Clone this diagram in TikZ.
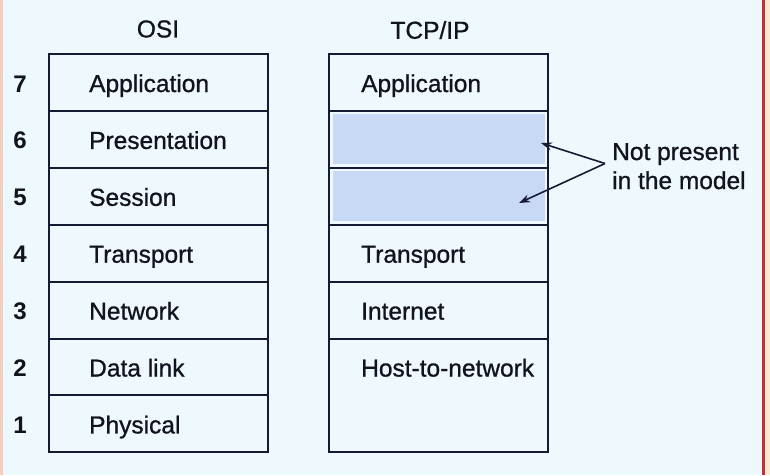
\documentclass[tikz,border=0pt]{standalone}
\usepackage{fontspec}
\setmainfont{Liberation Sans}
\newfontfamily\medfont{Liberation Sans}[FakeBold=0.9]
\usetikzlibrary{arrows.meta}
\definecolor{bgc}{HTML}{EDF9FC}
\definecolor{linec}{HTML}{161A33}
\definecolor{shadec}{HTML}{C7D9F4}
\definecolor{txtc}{HTML}{12131F}
\definecolor{leftedge}{HTML}{F2CFC0}
\definecolor{rightred}{HTML}{C23238}
\definecolor{rightor}{HTML}{FDEAD3}
\tikzset{
  osicell/.style={draw=linec, line width=2pt, minimum width=219pt, minimum height=57pt, inner sep=0pt, fill=bgc},
  tcpcell/.style={draw=linec, line width=2pt, minimum width=219pt, minimum height=57pt, inner sep=0pt, fill=bgc},
  shadein/.style={fill=shadec, minimum width=212pt, minimum height=50pt, inner sep=0pt},
  lbl/.style={anchor=base west, inner sep=0pt, text=txtc, font=\medfont\fontsize{24.5}{28}\selectfont},
  ttl/.style={inner sep=0pt, text=txtc, font=\medfont\fontsize{24.5}{28}\selectfont},
  num/.style={anchor=base, inner sep=0pt, text=txtc, font=\bfseries\fontsize{24}{28}\selectfont},
  ptr/.style={draw=linec, line width=1.6pt, -{Stealth[length=11pt,width=8pt]}}
}
\begin{document}
\begin{tikzpicture}[x=1pt,y=-1pt]
\fill[bgc] (0,0) rectangle (770,475);
\useasboundingbox (0,0) rectangle (770,475);
\fill[leftedge] (0,0) rectangle (2.5,475);
\fill[rightor] (764,0) rectangle (770,475);
\fill[rightred] (762,0) rectangle (764.5,475);

% titles
\node[ttl] (tosi) at (158,29) {OSI};
\node[ttl] (ttcp) at (430,30) {TCP/IP};

% OSI column
\foreach \n/\t [count=\i from 0] in {7/Application,6/Presentation,5/Session,4/Transport,3/Network,2/Data link,1/Physical}{
  \node[osicell] (o\n) at (158.5,{82.5+56.9*\i}) {};
  \node[lbl] (ol\n) at ([xshift=41pt,yshift=-9.5pt]o\n.west) {\t};
  \node[num] (n\n) at ([xshift=-28pt,yshift=-9.5pt]o\n.west) {\n};
}

% TCP/IP column
\node[tcpcell] (t7) at (438.5,82.5) {};
\node[lbl] (tl7) at ([xshift=33pt,yshift=-9.5pt]t7.west) {Application};
\node[tcpcell] (t6) at (438.5,139.4) {};
\node[shadein] (t6f) at (t6) {};
\node[tcpcell] (t5) at (438.5,196.3) {};
\node[shadein] (t5f) at (t5) {};
\node[tcpcell] (t4) at (438.5,253.2) {};
\node[lbl] (tl4) at ([xshift=33pt,yshift=-9.5pt]t4.west) {Transport};
\node[tcpcell] (t3) at (438.5,310.1) {};
\node[lbl] (tl3) at ([xshift=33pt,yshift=-9.5pt]t3.west) {Internet};
\node[tcpcell, minimum height=113.8pt] (t21) at (438.5,395.45) {};
\node[lbl] (tl2) at ([xshift=33pt,yshift=18.9pt]t21.west) {Host-to-network};

% note
\node[lbl] (np1) at (612,160) {Not present};
\node[lbl] (np2) at (612,189) {in the model};
\coordinate (src) at (605,163.5);
\coordinate (tip6) at (541,143);
\coordinate (tip5) at (519,203);
\draw[ptr] (src) -- (tip6);
\draw[ptr] (src) -- (tip5);
\end{tikzpicture}
\end{document}
